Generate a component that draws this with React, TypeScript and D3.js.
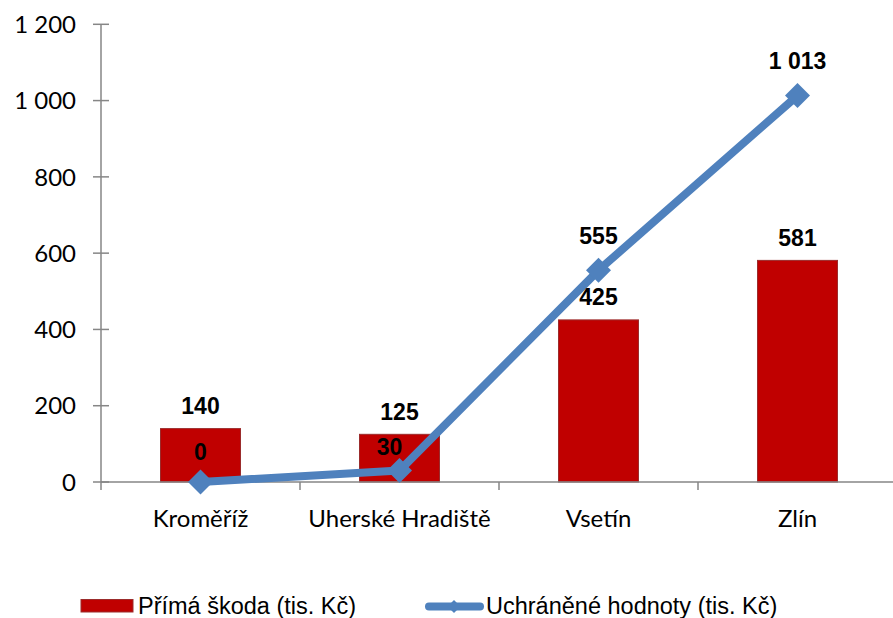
import React from "react";
import * as d3 from "d3";

const categories = ["Kroměříž", "Uherské Hradiště", "Vsetín", "Zlín"];
const directDamage = [140, 125, 425, 581];
const protectedValues = [0, 30, 555, 1013];
const yTicks = [0, 200, 400, 600, 800, 1000, 1200];
const seriesNames = ["Přímá škoda (tis. Kč)", "Uchráněné hodnoty (tis. Kč)"];

const W = 893;
const H = 618;
const fmt = (v: number) => {
  const s = String(v);
  return s.replace(/\B(?=(\d{3})+(?!\d))/g, " ");
};

export default function App() {
  const x = d3.scaleBand<string>().domain(categories).range([101, 897]).paddingInner(0).paddingOuter(0);
  const y = d3.scaleLinear().domain([0, 1200]).range([482, 24.3]);
  const barW = 80;
  const bw = x.bandwidth();
  const cx = (c: string) => (x(c) as number) + bw / 2;
  const line = d3
    .line<number>()
    .x((_, i) => cx(categories[i]))
    .y((d) => y(d));
  const diamond = (px: number, py: number, r: number) =>
    `M${px},${py - r}L${px + r},${py}L${px},${py + r}L${px - r},${py}Z`;
  const axisColor = "#868686";
  const boundaries = categories.map((c) => x(c) as number).concat([897]);
  const tickFont = "Lato, 'Open Sans', sans-serif";
  const labelFont = "'Liberation Sans', Arial, sans-serif";

  return (
    <svg width={W} height={H} style={{ position: "absolute", left: 0, top: 0, background: "#fff" }}>
      {/* bars */}
      {categories.map((c, i) => (
        <rect
          key={c}
          x={cx(c) - barW / 2}
          y={y(directDamage[i])}
          width={barW}
          height={y(0) - y(directDamage[i])}
          fill="#C00000"
          stroke="#9B2C2C"
          strokeWidth={1}
        />
      ))}
      {/* y axis */}
      <line x1={101} x2={101} y1={y(1200)} y2={y(0)} stroke={axisColor} strokeWidth={1.5} />
      {yTicks.map((t) => (
        <g key={t}>
          <line x1={93} x2={109} y1={y(t)} y2={y(t)} stroke={axisColor} strokeWidth={1.5} />
          <text
            x={76}
            y={y(t)}
            dy="0.36em"
            textAnchor="end"
            fontFamily={tickFont}
            fontSize={24}
            fill="#000"
          >
            {fmt(t)}
          </text>
        </g>
      ))}
      {/* x axis */}
      <line x1={101} x2={897} y1={y(0)} y2={y(0)} stroke={axisColor} strokeWidth={1.5} />
      {boundaries.map((b, i) => (
        <line key={i} x1={b} x2={b} y1={y(0)} y2={y(0) + 8} stroke={axisColor} strokeWidth={1.5} />
      ))}
      {categories.map((c) => (
        <text
          key={c}
          x={cx(c)}
          y={518}
          dy="0.36em"
          textAnchor="middle"
          fontFamily={tickFont}
          fontSize={24}
          fill="#000"
        >
          {c}
        </text>
      ))}
      {/* line series */}
      <path d={line(protectedValues) || ""} fill="none" stroke="#4F81BD" strokeWidth={8} strokeLinejoin="round" />
      {protectedValues.map((v, i) => (
        <path key={i} d={diamond(cx(categories[i]), y(v), 12.5)} fill="#4F81BD" />
      ))}
      {/* bar labels */}
      {categories.map((c, i) => (
        <text
          key={c}
          x={cx(c)}
          y={y(directDamage[i]) - 23}
          dy="0.36em"
          textAnchor="middle"
          fontFamily={labelFont}
          fontWeight="bold"
          fontSize={23}
          fill="#000"
        >
          {fmt(directDamage[i])}
        </text>
      ))}
      {/* line labels */}
      {categories.map((c, i) => (
        <text
          key={c}
          x={cx(c) - (i === 1 ? 10 : 0)}
          y={y(protectedValues[i]) - (i === 1 ? 24 : i === 0 ? 30 : 35)}
          dy="0.36em"
          textAnchor="middle"
          fontFamily={labelFont}
          fontWeight="bold"
          fontSize={23}
          fill="#000"
        >
          {fmt(protectedValues[i])}
        </text>
      ))}
      {/* legend */}
      <rect x={81} y={599.5} width={52} height={12.5} fill="#C00000" stroke="#9B2C2C" strokeWidth={1} />
      <text x={138} y={606} dy="0.36em" fontFamily={labelFont} fontSize={23.5} fill="#000">
        {seriesNames[0]}
      </text>
      <line x1={429} x2={480} y1={606.5} y2={606.5} stroke="#4F81BD" strokeWidth={8} strokeLinecap="round" />
      <path d={diamond(454, 606.5, 6.5)} fill="#4F81BD" />
      <text x={486} y={606} dy="0.36em" fontFamily={labelFont} fontSize={23.5} fill="#000">
        {seriesNames[1]}
      </text>
    </svg>
  );
}
